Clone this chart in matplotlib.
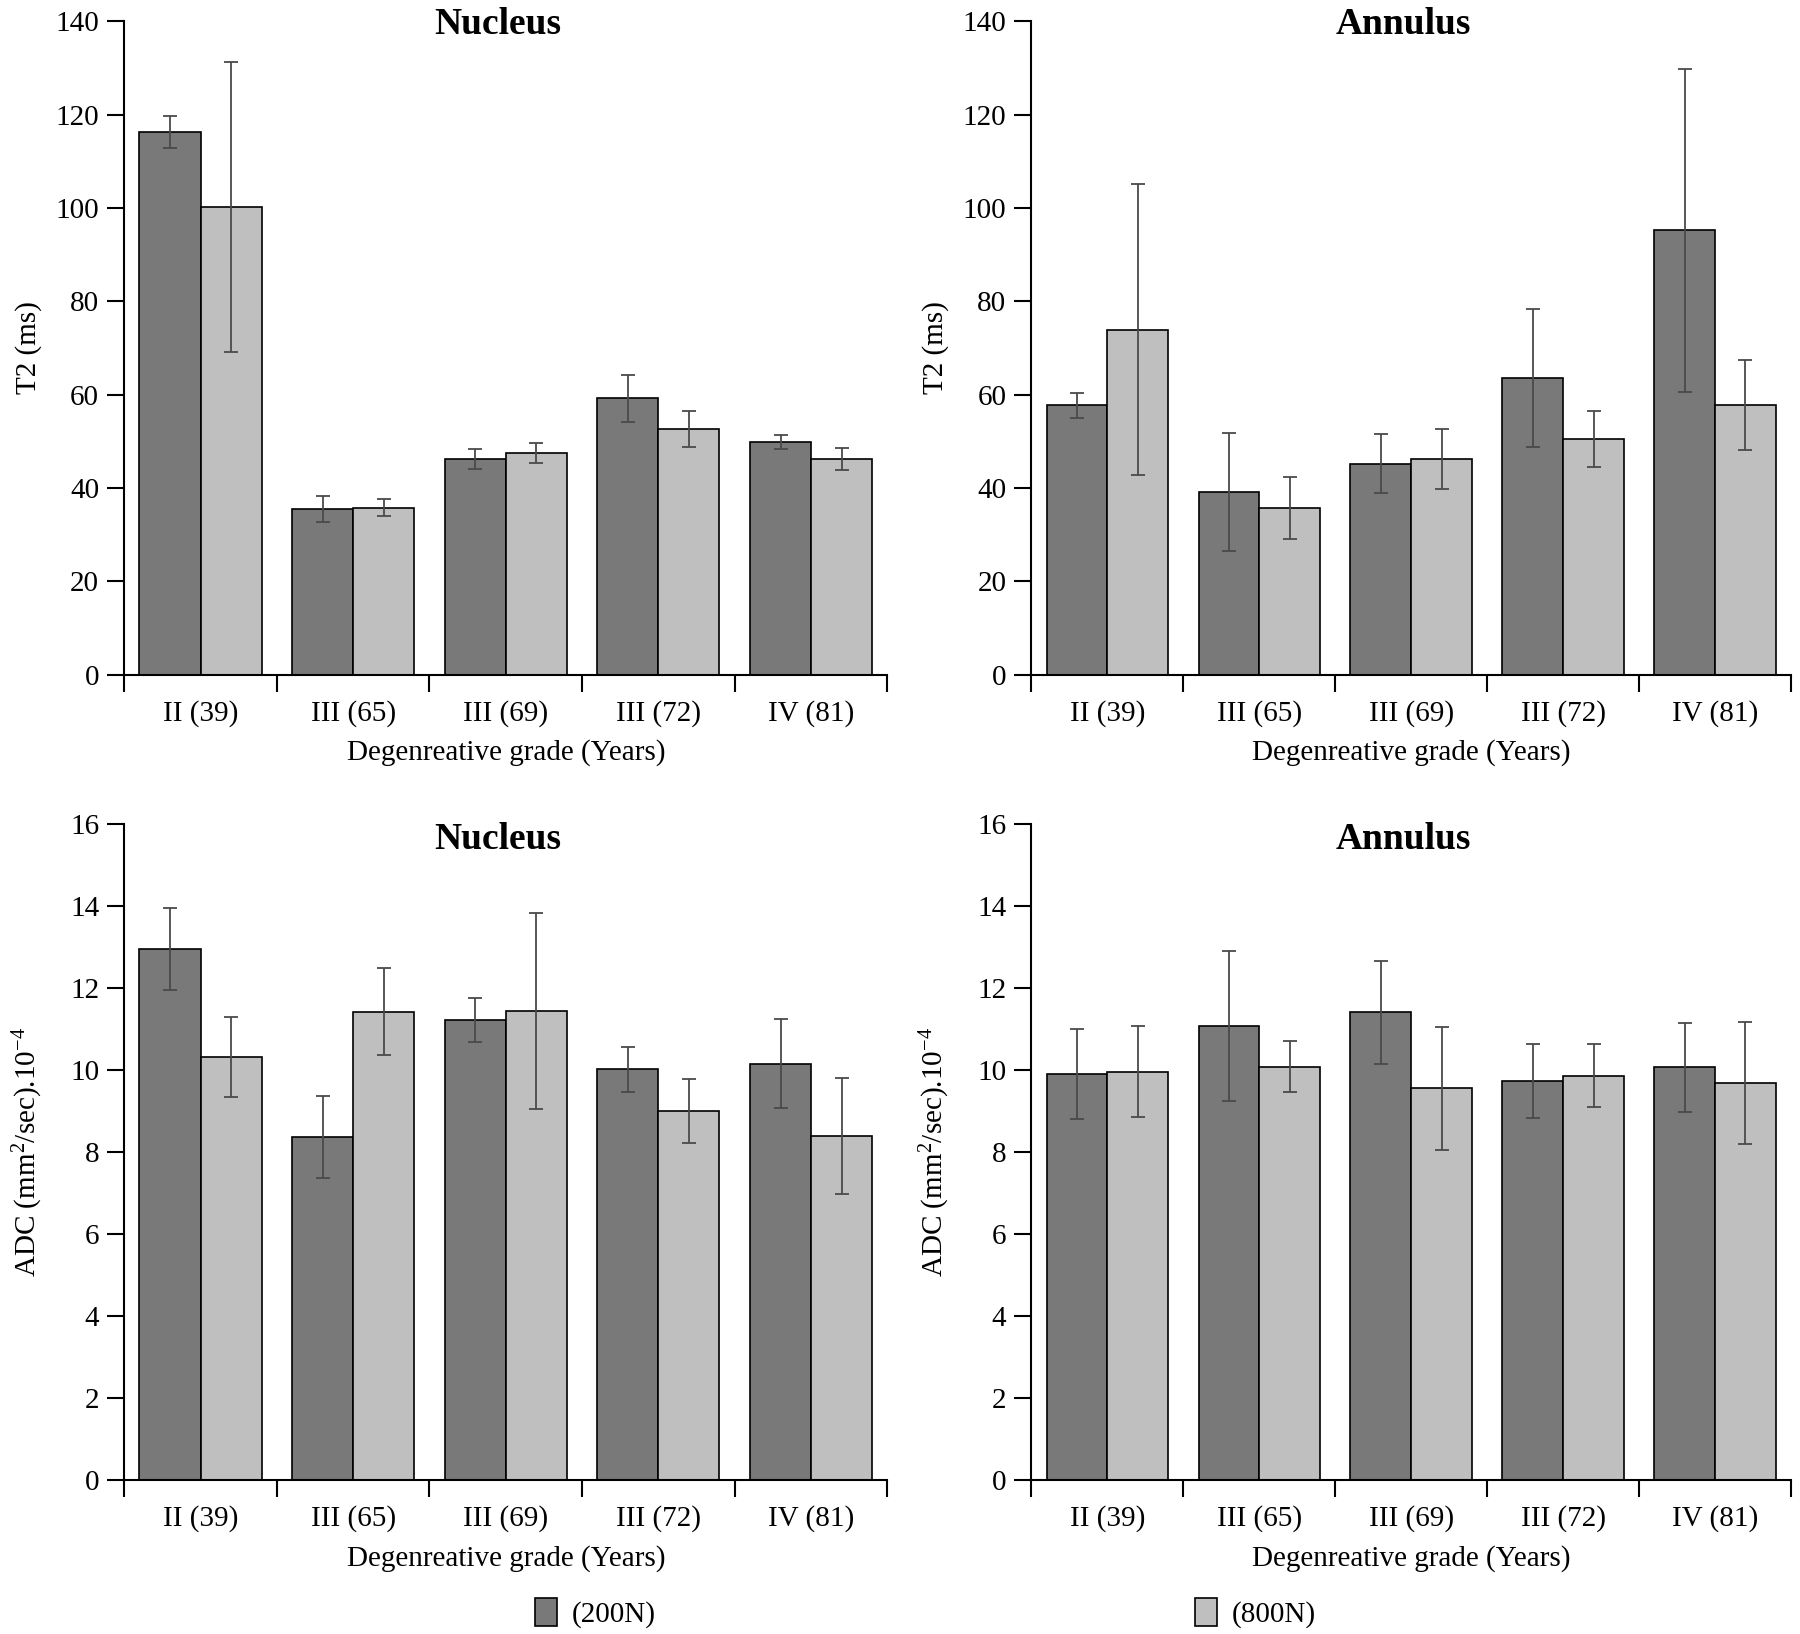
import matplotlib
matplotlib.use("Agg")
import matplotlib.pyplot as plt
import numpy as np
from matplotlib.patches import Patch

plt.rcParams['font.family'] = ['Liberation Serif', 'DejaVu Serif']
plt.rcParams['mathtext.fontset'] = 'custom'
plt.rcParams['mathtext.rm'] = 'Liberation Serif'
plt.rcParams['mathtext.it'] = 'Liberation Serif:italic'

# data
categories = ['II (39)', 'III (65)', 'III (69)', 'III (72)', 'IV (81)']

t2_nuc_200 = [116.3, 35.5, 46.2, 59.2, 49.8]
t2_nuc_200_err = [3.5, 2.8, 2.1, 5.0, 1.5]
t2_nuc_800 = [100.2, 35.8, 47.5, 52.7, 46.2]
t2_nuc_800_err = [31.0, 1.8, 2.2, 3.8, 2.3]

t2_ann_200 = [57.7, 39.1, 45.2, 63.6, 95.2]
t2_ann_200_err = [2.6, 12.6, 6.3, 14.7, 34.6]
t2_ann_800 = [73.9, 35.7, 46.3, 50.6, 57.8]
t2_ann_800_err = [31.2, 6.6, 6.4, 6.0, 9.6]

adc_nuc_200 = [12.94, 8.37, 11.22, 10.01, 10.15]
adc_nuc_200_err = [1.0, 1.0, 0.53, 0.55, 1.08]
adc_nuc_800 = [10.32, 11.41, 11.43, 8.99, 8.39]
adc_nuc_800_err = [0.97, 1.06, 2.39, 0.78, 1.42]

adc_ann_200 = [9.90, 11.07, 11.40, 9.73, 10.06]
adc_ann_200_err = [1.10, 1.82, 1.25, 0.90, 1.08]
adc_ann_800 = [9.96, 10.08, 9.55, 9.86, 9.68]
adc_ann_800_err = [1.12, 0.63, 1.50, 0.77, 1.48]

DARK = '#797979'
LIGHT = '#bfbfbf'
FS = 21

fig = plt.figure(figsize=(18, 16.34), dpi=100)

T2_LABEL = 'T2 (ms)'
ADC_LABEL = r'ADC (mm$^{2}$/sec).10$^{-4}$'

# rect, title, title y, ylabel, ylabel pad, ymax, ystep, series...
panels = [
    ([0.069, 0.587, 0.424, 0.400], 'Nucleus', 0.995, T2_LABEL, 10, 140, 20,
     t2_nuc_200, t2_nuc_200_err, t2_nuc_800, t2_nuc_800_err),
    ([0.573, 0.587, 0.422, 0.400], 'Annulus', 0.995, T2_LABEL, 10, 140, 20,
     t2_ann_200, t2_ann_200_err, t2_ann_800, t2_ann_800_err),
    ([0.069, 0.094, 0.424, 0.402], 'Nucleus', 0.975, ADC_LABEL, 18, 16, 2,
     adc_nuc_200, adc_nuc_200_err, adc_nuc_800, adc_nuc_800_err),
    ([0.573, 0.094, 0.422, 0.402], 'Annulus', 0.975, ADC_LABEL, 18, 16, 2,
     adc_ann_200, adc_ann_200_err, adc_ann_800, adc_ann_800_err),
]

x = np.arange(len(categories))
w = 0.4
err_kw = dict(ecolor='#4a4a4a', elinewidth=1.3, capsize=5, capthick=1.3)

for rect, title, ty, ylabel, ypad, ymax, ystep, v1, e1, v2, e2 in panels:
    ax = fig.add_axes(rect)
    ax.bar(x - w / 2, v1, w, yerr=e1, color=DARK, edgecolor='black',
           linewidth=1.2, error_kw=err_kw)
    ax.bar(x + w / 2, v2, w, yerr=e2, color=LIGHT, edgecolor='black',
           linewidth=1.2, error_kw=err_kw)

    ax.set_xlim(-0.5, len(categories) - 0.5)
    ax.set_ylim(0, ymax)
    ax.set_yticks(np.arange(0, ymax + 1e-9, ystep))
    ax.set_xticks(x)
    ax.set_xticklabels(categories)
    ax.set_xticks(np.arange(-0.5, len(categories), 1.0), minor=True)
    ax.tick_params(axis='x', which='major', length=0, labelsize=FS, pad=18)
    ax.tick_params(axis='x', which='minor', length=12, width=1.5, direction='out')
    ax.tick_params(axis='y', length=12, width=1.5, direction='out', labelsize=FS, pad=6)

    for s in ['top', 'right']:
        ax.spines[s].set_visible(False)
    for s in ['left', 'bottom']:
        ax.spines[s].set_linewidth(1.5)

    ax.set_xlabel('Degenreative grade (Years)', fontsize=FS, labelpad=9)
    ax.set_ylabel(ylabel, fontsize=FS, labelpad=ypad)
    ax.text(0.49, ty, title, transform=ax.transAxes, ha='center', va='center',
            fontsize=27, fontweight='bold')

handles = [Patch(facecolor=DARK, edgecolor='black', linewidth=1.2, label='(200N)'),
           Patch(facecolor=LIGHT, edgecolor='black', linewidth=1.2, label='(800N)')]
fig.legend(handles=handles, loc='center', bbox_to_anchor=(0.514, 0.013), ncol=2,
           frameon=False, fontsize=FS, handlelength=0.75, handleheight=1.1,
           handletextpad=0.5, columnspacing=18.5)

fig.savefig('out.png', dpi=100)
